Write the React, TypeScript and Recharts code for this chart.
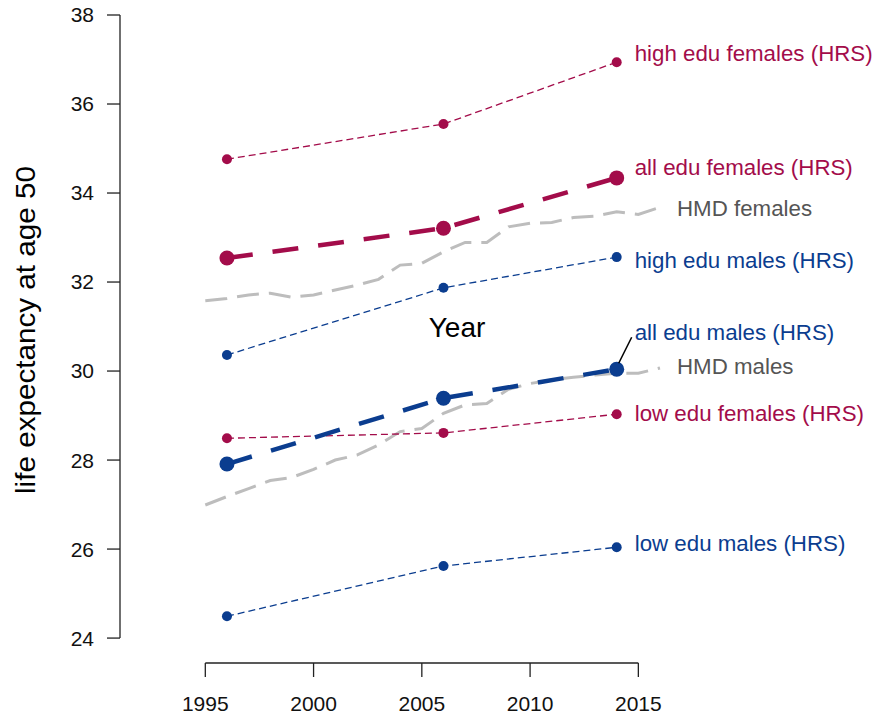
import React from 'react';
import { LineChart, Line, XAxis, YAxis, ReferenceLine } from 'recharts';

// HMD period life expectancy at 50, one value per year
const hmdYears = [
  1995, 1996, 1997, 1998, 1999, 2000, 2001, 2002, 2003, 2004, 2005,
  2006, 2007, 2008, 2009, 2010, 2011, 2012, 2013, 2014, 2015, 2016,
];
const hmdFemales = [
  31.58, 31.63, 31.71, 31.75, 31.66, 31.71, 31.82, 31.93, 32.06, 32.38, 32.42,
  32.68, 32.89, 32.89, 33.24, 33.32, 33.34, 33.45, 33.48, 33.58, 33.52, 33.68,
];
const hmdMales = [
  26.99, 27.18, 27.36, 27.54, 27.61, 27.79, 28.0, 28.11, 28.34, 28.64, 28.71,
  29.05, 29.24, 29.27, 29.59, 29.72, 29.8, 29.86, 29.91, 29.95, 29.95, 30.07,
];

// HRS estimates
const hrsYears = [1996, 2006, 2014];
const highEduFemales = [34.76, 35.55, 36.94];
const allEduFemales = [32.54, 33.21, 34.34];
const highEduMales = [30.36, 31.87, 32.56];
const allEduMales = [27.91, 29.39, 30.04];
const lowEduFemales = [28.49, 28.61, 29.03];
const lowEduMales = [24.49, 25.62, 26.04];

const xTicks = [1995, 2000, 2005, 2010, 2015];
const yTicks = [24, 26, 28, 30, 32, 34, 36, 38];

const X_MIN = 1991.06;
const X_MAX = 2016;
const Y_MIN = 23.44;
const Y_MAX = 38;

const RED = '#a30c4a';
const BLUE = '#0b3d8f';
const GREY = '#bdbdbd';
const FONT = '"Liberation Sans", Arial, Helvetica, sans-serif';

const toRows = (xs: number[], ys: number[]) => xs.map((year, i) => ({ year, value: ys[i] }));

type Series = {
  key: string;
  label: string;
  years: number[];
  values: number[];
  color: string;
  labelColor: string;
  width: number;
  dash: string;
  r: number;
  labelDx: number;
  labelDy: number;
  leader?: boolean;
};

const series: Series[] = [
  { key: 'hmdF', label: 'HMD females', years: hmdYears, values: hmdFemales, color: GREY, labelColor: '#555', width: 3, dash: '22 10', r: 0, labelDx: 17, labelDy: 1 },
  { key: 'hmdM', label: 'HMD males', years: hmdYears, values: hmdMales, color: GREY, labelColor: '#555', width: 3, dash: '22 10', r: 0, labelDx: 17, labelDy: -2 },
  { key: 'highF', label: 'high edu females (HRS)', years: hrsYears, values: highEduFemales, color: RED, labelColor: RED, width: 1.3, dash: '7 4', r: 5, labelDx: 18, labelDy: -9 },
  { key: 'lowF', label: 'low edu females (HRS)', years: hrsYears, values: lowEduFemales, color: RED, labelColor: RED, width: 1.3, dash: '7 4', r: 5, labelDx: 18, labelDy: -1 },
  { key: 'highM', label: 'high edu males (HRS)', years: hrsYears, values: highEduMales, color: BLUE, labelColor: BLUE, width: 1.3, dash: '7 4', r: 5, labelDx: 18, labelDy: 3 },
  { key: 'lowM', label: 'low edu males (HRS)', years: hrsYears, values: lowEduMales, color: BLUE, labelColor: BLUE, width: 1.3, dash: '7 4', r: 5, labelDx: 18, labelDy: -4 },
  { key: 'allF', label: 'all edu females (HRS)', years: hrsYears, values: allEduFemales, color: RED, labelColor: RED, width: 4.5, dash: '26 20', r: 7.5, labelDx: 18, labelDy: -11 },
  { key: 'allM', label: 'all edu males (HRS)', years: hrsYears, values: allEduMales, color: BLUE, labelColor: BLUE, width: 4.5, dash: '26 20', r: 7.5, labelDx: 18, labelDy: -37, leader: true },
];

const makeDot = (s: Series) => (props: any) => {
  const { cx, cy, index } = props;
  const last = index === s.values.length - 1;
  if (cx == null || cy == null) return <g key={`${s.key}-${index}`} />;
  return (
    <g key={`${s.key}-${index}`}>
      {s.r > 0 && <circle cx={cx} cy={cy} r={s.r} fill={s.color} stroke="none" />}
      {last && s.leader && (
        <line x1={cx + 2} y1={cy - 6} x2={cx + 15} y2={cy - 32} stroke="#000" strokeWidth={1.5} />
      )}
      {last && (
        <text
          x={cx + s.labelDx}
          y={cy + s.labelDy}
          dy="0.35em"
          fill={s.labelColor}
          fontSize={22.3}
          fontFamily={FONT}
        >
          {s.label}
        </text>
      )}
    </g>
  );
};

export default function App() {
  return (
    <div style={{ position: 'absolute', left: 0, top: 0, background: '#fff' }}>
      <LineChart
        width={875}
        height={720}
        margin={{ top: 15, right: 215, bottom: 7, left: 0 }}
        style={{ fontFamily: FONT }}
      >
        <XAxis
          dataKey="year"
          type="number"
          domain={[X_MIN, X_MAX]}
          ticks={xTicks}
          interval={0}
          height={50}
          axisLine={false}
          tickLine={{ stroke: '#222', strokeWidth: 1.3 }}
          tickSize={14}
          tickMargin={19}
          tick={{ fill: '#111', fontSize: 21, fontFamily: FONT }}
          allowDuplicatedCategory={false}
        />
        <YAxis
          type="number"
          domain={[Y_MIN, Y_MAX]}
          ticks={yTicks}
          interval={0}
          width={120}
          axisLine={false}
          tickLine={{ stroke: '#222', strokeWidth: 1.3 }}
          tickSize={13}
          tickMargin={13}
          tick={{ fill: '#111', fontSize: 21, fontFamily: FONT }}
        />
        <ReferenceLine
          segment={[{ x: X_MIN, y: 24 }, { x: X_MIN, y: 38 }]}
          stroke="#222"
          strokeWidth={1.3}
          ifOverflow="visible"
        />
        <ReferenceLine
          segment={[{ x: 1995, y: Y_MIN }, { x: 2015, y: Y_MIN }]}
          stroke="#222"
          strokeWidth={1.3}
          ifOverflow="visible"
        />
        {series.map((s) => (
          <Line
            key={s.key}
            data={toRows(s.years, s.values)}
            dataKey="value"
            type="linear"
            stroke={s.color}
            strokeWidth={s.width}
            strokeDasharray={s.dash}
            dot={makeDot(s)}
            activeDot={false}
            isAnimationActive={false}
          />
        ))}
        <text x={457} y={327} dy="0.35em" textAnchor="middle" fontSize={28} fontFamily={FONT} fill="#000">
          Year
        </text>
        <text
          x={25}
          y={330}
          dy="0.35em"
          textAnchor="middle"
          fontSize={28}
          fontFamily={FONT}
          fill="#000"
          transform="rotate(-90 25 330)"
          textLength={328}
          lengthAdjust="spacingAndGlyphs"
        >
          life expectancy at age 50
        </text>
      </LineChart>
    </div>
  );
}
